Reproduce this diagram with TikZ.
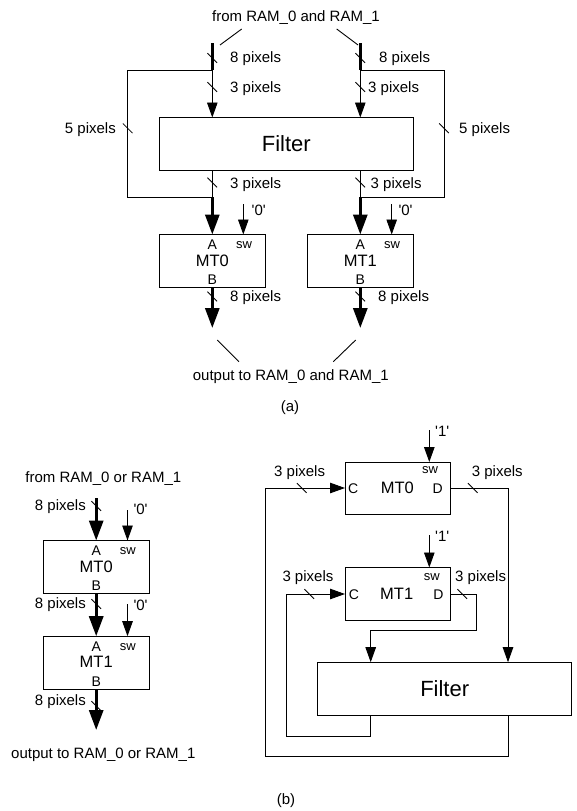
\documentclass[tikz,border=0pt]{standalone}
\usepackage{fontspec}
\setmainfont{Liberation Sans}
\usetikzlibrary{arrows.meta,calc}
\newcommand\fsz[1]{\fontsize{#1}{#1}\selectfont}
\newcommand\qt[1]{\textquotesingle#1\textquotesingle}
\begin{document}
\begin{tikzpicture}[x=1pt,y=-1pt,
  wire/.style={line width=0.9pt},
  bus/.style={line width=3pt},
  arr/.style={-{Triangle[length=15pt,width=10.5pt]}},
  barr/.style={-{Triangle[length=20pt,width=14pt]}},
  blk/.style={draw, line width=0.9pt, inner sep=0, outer sep=0, minimum width=106pt, minimum height=53pt},
  fblk/.style={draw, line width=0.9pt, inner sep=0, outer sep=0, minimum width=254pt, minimum height=53pt, font=\fsz{22}},
  lbl/.style={inner sep=0, font=\fsz{15}},
  pin/.style={inner sep=0, font=\fsz{14}, anchor=base},
  mtl/.style={inner sep=0, font=\fsz{16.5}, anchor=base},
  swl/.style={inner sep=0, font=\fsz{13}, anchor=base},
  busmark/.pic={\draw[line width=0.8pt] (-4.8,-4.8) -- (4.8,4.8);}
]
\useasboundingbox (0,0) rectangle (577,811);

%%%%%%%%%%%%%%%% (a)
\node[lbl, anchor=base] (fromA) at (296,21) {from RAM\_0 and RAM\_1};
\node[fblk] (filA) at (286.3,144) {Filter};
\node[blk] (mtA0) at (212.3,261) {};
\node[blk] (mtA1) at (360.3,261) {};
\node[pin] (aA0) at (212.3,249.5) {A};
\node[mtl] (nA0) at (212.3,266.2) {MT0};
\node[pin] (bA0) at (212.3,284.5) {B};
\node[swl] (sA0) at (244,248.4) {sw};
\node[pin] (aA1) at (360.3,249.5) {A};
\node[mtl] (nA1) at (360.3,266.2) {MT1};
\node[pin] (bA1) at (360.3,284.5) {B};
\node[swl] (sA1) at (392,248.4) {sw};

\coordinate (inL) at (212.3,43.3);
\coordinate (jL) at (212.3,70);
\coordinate (sL1) at (127.7,70);
\coordinate (sL2) at (127.7,197.3);
\coordinate (kL) at (212.3,197.3);
\coordinate (inR) at (360.3,43.3);
\coordinate (jR) at (360.3,70);
\coordinate (sR1) at (444,70);
\coordinate (sR2) at (444,197.3);
\coordinate (kR) at (360.3,197.3);
\coordinate (zL) at (243.3,204);
\coordinate (zR) at (391.7,204);
\coordinate (oL) at (212.3,328);
\coordinate (oR) at (360.3,328);
\coordinate (dgL1) at (241.7,29);
\coordinate (dgL2) at (220,45);
\coordinate (dgR1) at (336.7,29);
\coordinate (dgR2) at (358,45);
\coordinate (dbL1) at (217.3,340);
\coordinate (dbL2) at (239,361.7);
\coordinate (dbR1) at (355.7,340);
\coordinate (dbR2) at (333.3,361.7);

\draw[wire] (dgL1) -- (dgL2);
\draw[wire] (dgR1) -- (dgR2);
\draw[wire] (dbL1) -- (dbL2);
\draw[wire] (dbR1) -- (dbR2);

\draw[bus] (inL) -- (jL);
\draw[bus] (inR) -- (jR);
\draw[wire,arr] (jL) -- (jL |- filA.north);
\draw[wire,arr] (jR) -- (jR |- filA.north);
\draw[wire] (jL) -- (sL1) -- (sL2) -- (kL);
\draw[wire] (jR) -- (sR1) -- (sR2) -- (kR);
\draw[wire] (filA.south -| kL) -- (kL);
\draw[wire] (filA.south -| kR) -- (kR);
\draw[bus,barr] (kL) -- (mtA0.north);
\draw[bus,barr] (kR) -- (mtA1.north);
\draw[wire,arr] (zL) -- (zL |- mtA0.north);
\draw[wire,arr] (zR) -- (zR |- mtA1.north);
\draw[bus,barr] (mtA0.south) -- (oL);
\draw[bus,barr] (mtA1.south) -- (oR);

\pic at (212.3,58) {busmark};
\pic at (360.3,58) {busmark};
\pic at (212.3,87) {busmark};
\pic at (360.3,87) {busmark};
\pic at (127.7,128.3) {busmark};
\pic at (444,128.3) {busmark};
\pic at (212.3,182.5) {busmark};
\pic at (360.3,182.5) {busmark};
\pic at (212.3,296.5) {busmark};
\pic at (360.3,296.5) {busmark};

\node[lbl, anchor=base west] (l8L) at (230,62.5) {8 pixels};
\node[lbl, anchor=base west] (l8R) at (379,62.5) {8 pixels};
\node[lbl, anchor=base west] (l3L) at (230,92) {3 pixels};
\node[lbl, anchor=base west] (l3R) at (368,92) {3 pixels};
\node[lbl, anchor=base east] (l5L) at (116,133.5) {5 pixels};
\node[lbl, anchor=base west] (l5R) at (459,133.5) {5 pixels};
\node[lbl, anchor=base west] (m3L) at (230,188.3) {3 pixels};
\node[lbl, anchor=base west] (m3R) at (370.5,188.3) {3 pixels};
\node[lbl, anchor=base west] (q0L) at (251.5,215) {\qt{0}};
\node[lbl, anchor=base west] (q0R) at (398.3,215) {\qt{0}};
\node[lbl, anchor=base west] (o8L) at (230,301.7) {8 pixels};
\node[lbl, anchor=base west] (o8R) at (378,301.7) {8 pixels};
\node[lbl, anchor=base] (outA) at (290.8,380) {output to RAM\_0 and RAM\_1};
\node[lbl, anchor=base] (capA) at (290,411) {(a)};

%%%%%%%%%%%%%%%% (b) left
\node[lbl, anchor=base] (fromB) at (103.3,482.7) {from RAM\_0 or RAM\_1};
\node[blk] (mtB0) at (96.2,567) {};
\node[blk] (mtB1) at (96.2,662.7) {};
\node[pin] (aB0) at (96.2,555.7) {A};
\node[mtl] (nB0) at (96.2,572.4) {MT0};
\node[pin] (bB0) at (96.2,590.7) {B};
\node[swl] (sB0) at (127.7,554.6) {sw};
\node[pin] (aB1) at (96.2,651) {A};
\node[mtl] (nB1) at (96.2,667.7) {MT1};
\node[pin] (bB1) at (96.2,686) {B};
\node[swl] (sB1) at (127.7,650) {sw};

\coordinate (bin) at (96.2,498.3);
\coordinate (bout) at (96.2,730);
\coordinate (zB0) at (127.5,510);
\coordinate (zB1) at (127.5,604);
\draw[bus,barr] (bin) -- (mtB0.north);
\draw[bus,barr] (mtB0.south) -- (mtB1.north);
\draw[bus,barr] (mtB1.south) -- (bout);
\draw[wire,arr] (zB0) -- (zB0 |- mtB0.north);
\draw[wire,arr] (zB1) -- (zB1 |- mtB1.north);
\pic at (96.2,506) {busmark};
\pic at (96.2,604) {busmark};
\pic at (96.2,706) {busmark};

\node[lbl, anchor=base east] (p8a) at (86,510) {8 pixels};
\node[lbl, anchor=base east] (p8b) at (86,608) {8 pixels};
\node[lbl, anchor=base east] (p8c) at (86,705) {8 pixels};
\node[lbl, anchor=base west] (q0a) at (133.3,514) {\qt{0}};
\node[lbl, anchor=base west] (q0b) at (133.3,610) {\qt{0}};
\node[lbl, anchor=base] (outB) at (103.3,758) {output to RAM\_0 or RAM\_1};

%%%%%%%%%%%%%%%% (b) right
\node[blk, minimum width=105pt, minimum height=52pt] (mtC0) at (397.5,488) {};
\node[blk, minimum width=105pt] (mtC1) at (397.5,594) {};
\node[fblk] (filB) at (444.7,688.7) {Filter};
\node[pin] (cC0) at (353.3,493) {C};
\node[mtl] (nC0) at (397.3,493.7) {MT0};
\node[pin] (dC0) at (437.7,493) {D};
\node[swl] (sC0) at (430,473.4) {sw};
\node[pin] (cC1) at (354,599) {C};
\node[mtl] (nC1) at (396.7,599.7) {MT1};
\node[pin] (dC1) at (438.3,599) {D};
\node[swl] (sC1) at (431.7,580) {sw};

\coordinate (o1) at (265,756.7);
\coordinate (o2) at (508,756.7);
\coordinate (o3) at (265,488);
\coordinate (d0) at (508,488);
\coordinate (i1) at (286,736);
\coordinate (i2) at (370.7,736);
\coordinate (i3) at (286,594);
\coordinate (d1a) at (476.7,594);
\coordinate (d1b) at (476.7,630);
\coordinate (d1c) at (370.7,630);
\coordinate (w0) at (429.3,430);
\coordinate (w1) at (429.3,535);

\draw[wire,arr] (filB.south -| o2) -- (o2) -- (o1) -- (o3) -- (mtC0.west);
\draw[wire,arr] (mtC0.east) -- (d0) -- (d0 |- filB.north);
\draw[wire,arr] (filB.south -| i2) -- (i2) -- (i1) -- (i3) -- (mtC1.west);
\draw[wire,arr] (mtC1.east) -- (d1a) -- (d1b) -- (d1c) -- (d1c |- filB.north);
\draw[wire,arr] (w0) -- (w0 |- mtC0.north);
\draw[wire,arr] (w1) -- (w1 |- mtC1.north);
\pic at (301.7,488) {busmark};
\pic at (472.7,488) {busmark};
\pic at (309.3,594) {busmark};
\pic at (462.3,594) {busmark};

\node[lbl, anchor=base west] (t3a) at (274,476) {3 pixels};
\node[lbl, anchor=base west] (t3b) at (471.7,476) {3 pixels};
\node[lbl, anchor=base west] (t3c) at (282.3,581.5) {3 pixels};
\node[lbl, anchor=base west] (t3d) at (455,581.5) {3 pixels};
\node[lbl, anchor=base west] (q1a) at (435,436) {\qt{1}};
\node[lbl, anchor=base west] (q1b) at (435,541) {\qt{1}};
\node[lbl, anchor=base] (capB) at (286,804) {(b)};
\end{tikzpicture}
\end{document}
